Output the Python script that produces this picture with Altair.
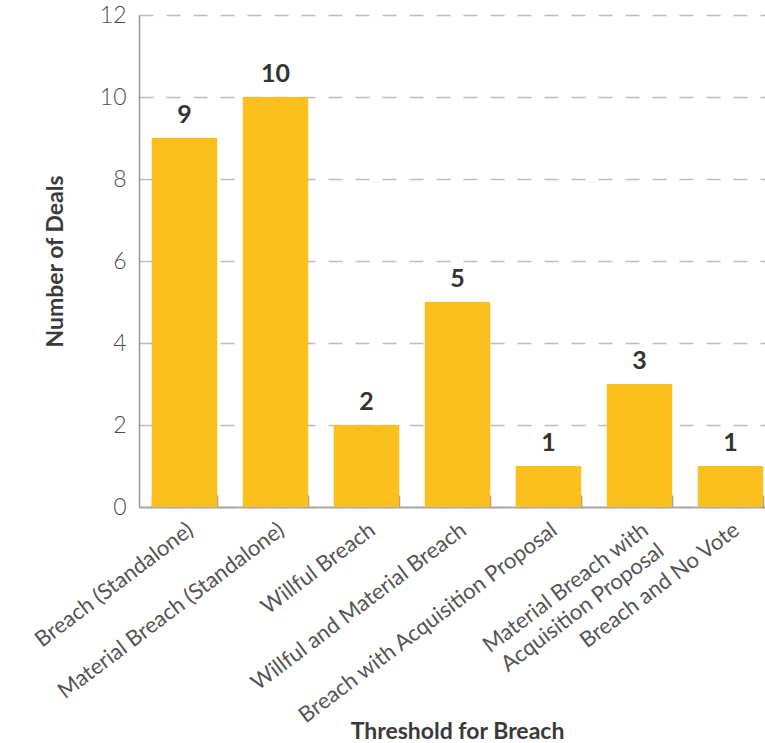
import altair as alt
import pandas as pd

# Deal counts by breach threshold
categories = [
    "Breach (Standalone)",
    "Material Breach (Standalone)",
    "Willful Breach",
    "Willful and Material Breach",
    "Breach with Acquisition Proposal",
    "Material Breach with Acquisition Proposal",
    "Breach and No Vote",
]
deals = [9, 10, 2, 5, 1, 3, 1]
y_ticks = [0, 2, 4, 6, 8, 10, 12]

df = pd.DataFrame({"threshold": categories, "deals": deals})

FONT = "Lato"
BAR = "#FBBF1E"
PLOT_W, PLOT_H = 637, 492

label_expr = (
    "datum.label == 'Material Breach with Acquisition Proposal' "
    "? ['Material Breach with', 'Acquisition Proposal'] : datum.label"
)

x_enc = alt.X(
    "threshold:N",
    sort=categories,
    scale=alt.Scale(paddingInner=0.28, paddingOuter=0.14),
    axis=alt.Axis(
        title="Threshold for Breach",
        titleFont=FONT,
        titleFontSize=23,
        titleFontWeight="bold",
        titleColor="#3a3a3a",
        titleX=318,
        titleY=224,
        titleAlign="center",
        titleBaseline="middle",
        labelFont=FONT,
        labelFontSize=22,
        labelFontWeight="normal",
        labelColor="#555555",
        labelAngle=-37,
        labelAlign="right",
        labelBaseline="top",
        labelPadding=12,
        labelLineHeight=26,
        labelLimit=500,
        labelExpr=label_expr,
        ticks=False,
        domainColor="#aaaaaa",
        domainWidth=2,
        grid=False,
    ),
)

y_enc = alt.Y(
    "deals:Q",
    scale=alt.Scale(domain=[0, 12], nice=False),
    axis=alt.Axis(
        title="Number of Deals",
        titleFont=FONT,
        titleFontSize=23,
        titleFontWeight="bold",
        titleColor="#3a3a3a",
        titleAngle=-90,
        titleX=-84,
        titleY=246,
        titleAlign="center",
        titleBaseline="middle",
        values=y_ticks,
        labelFont=FONT,
        labelFontSize=23,
        labelFontWeight=300,
        labelColor="#4d4d4d",
        labelPadding=13,
        ticks=False,
        domainColor="#999999",
        domainWidth=1.5,
        grid=True,
        gridColor="#bdbdbd",
        gridWidth=1.5,
        gridDash=[14, 13],
    ),
)

bars = alt.Chart(df).mark_bar(color=BAR).encode(x=x_enc, y=y_enc)

values = alt.Chart(df).mark_text(
    font=FONT, fontSize=25, fontWeight="bold", color="#333333",
    baseline="bottom", dy=-10,
).encode(
    x=alt.X(
        "threshold:N",
        sort=categories,
        axis=alt.Axis(
            orient="top", offset=-PLOT_H, labels=False, title=None,
            domain=False, ticks=True, tickBand="extent", tickSize=12,
            tickColor="#999999", tickWidth=1.5, grid=False,
        ),
    ),
    y="deals:Q",
    text="deals:Q",
)

chart = (
    alt.layer(bars, values)
    .resolve_axis(x="independent")
    .properties(
        width=PLOT_W,
        height=PLOT_H,
        autosize=alt.AutoSizeParams(type="none"),
        padding={"left": 139, "top": 15, "right": -11, "bottom": 236},
    )
    .configure_view(stroke=None)
)

chart.save("out.html", embed_options={"renderer": "svg", "actions": False})
